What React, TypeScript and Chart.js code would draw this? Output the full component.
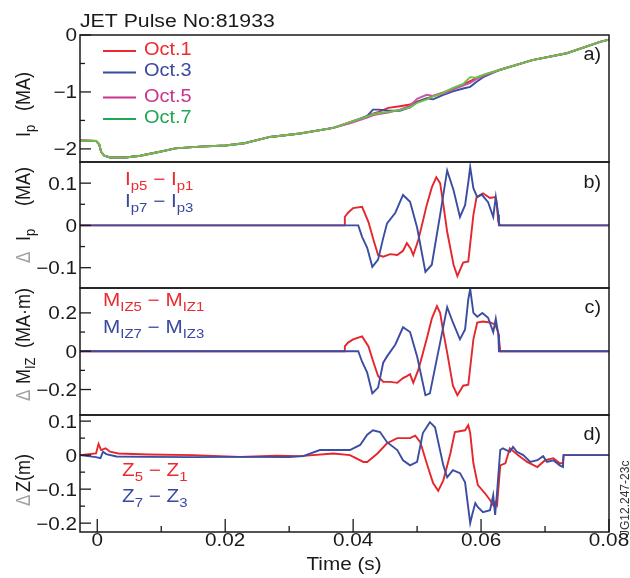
import React, { useEffect, useRef } from "react";
import { Chart, registerables } from "chart.js";

Chart.register(...registerables);

const FONT = "'Liberation Sans', Arial, Helvetica, sans-serif";

// ---------- axes ----------
const X_MIN = -0.0027;
const X_MAX = 0.08;
const X_TICKS = [0, 0.01, 0.02, 0.03, 0.04, 0.05, 0.06, 0.07, 0.08];
const X_LABELS = ["0", "", "0.02", "", "0.04", "", "0.06", "", "0.08"];

const YA_TICKS = [0, -0.5, -1, -1.5, -2];
const YA_LABELS = ["0", "", "\u22121", "", "\u22122"];
const YB_TICKS = [0.1, 0.05, 0, -0.05, -0.1];
const YB_LABELS = ["0.1", "", "0", "", "\u22120.1"];
const YC_TICKS = [0.2, 0.1, 0, -0.1, -0.2];
const YC_LABELS = ["0.2", "", "0", "", "\u22120.2"];
const YD_TICKS = [0.1, 0.05, 0, -0.05, -0.1, -0.15, -0.2];
const YD_LABELS = ["0.1", "", "0", "", "\u22120.1", "", "\u22120.2"];

// ---------- panel a : plasma current ----------
const T_A = [-0.0027, -0.0002, 0.0003, 0.0006, 0.0011, 0.002, 0.0044, 0.0067, 0.0098, 0.0122, 0.016, 0.02, 0.023, 0.027, 0.0317, 0.0369,
  0.0395, 0.0422, 0.0431, 0.044, 0.0455, 0.0473, 0.0489, 0.05, 0.0515, 0.0525, 0.0541, 0.0556, 0.0572, 0.0583, 0.0592, 0.0605,
  0.063, 0.068, 0.0734, 0.0786, 0.08];
const IP_OCT1 = [-1.85, -1.86, -1.92, -2.05, -2.12, -2.15, -2.15, -2.12, -2.05, -1.99, -1.96, -1.94, -1.9, -1.79, -1.73, -1.63,
  -1.53, -1.43, -1.38, -1.35, -1.28, -1.25, -1.22, -1.17, -1.12, -1.07, -1.01, -0.95, -0.87, -0.81, -0.76, -0.7,
  -0.61, -0.44, -0.32, -0.12, -0.08];
const IP_OCT3 = [-1.85, -1.86, -1.92, -2.05, -2.12, -2.15, -2.15, -2.12, -2.05, -1.99, -1.96, -1.94, -1.9, -1.79, -1.73, -1.63,
  -1.54, -1.42, -1.31, -1.31, -1.33, -1.33, -1.27, -1.18, -1.11, -1.13, -1.05, -0.99, -0.94, -0.91, -0.83, -0.73,
  -0.61, -0.44, -0.32, -0.12, -0.08];
const IP_OCT5 = [-1.85, -1.86, -1.92, -2.05, -2.12, -2.15, -2.15, -2.12, -2.05, -1.99, -1.96, -1.94, -1.9, -1.79, -1.73, -1.63,
  -1.55, -1.45, -1.41, -1.39, -1.36, -1.31, -1.24, -1.12, -1.05, -1.07, -1.03, -0.96, -0.89, -0.84, -0.78, -0.71,
  -0.61, -0.44, -0.32, -0.12, -0.08];
const IP_OCT7 = [-1.85, -1.86, -1.92, -2.05, -2.12, -2.15, -2.15, -2.12, -2.05, -1.99, -1.96, -1.94, -1.9, -1.79, -1.73, -1.63,
  -1.53, -1.43, -1.39, -1.37, -1.35, -1.32, -1.27, -1.19, -1.13, -1.08, -1.01, -0.93, -0.86, -0.74, -0.75, -0.69,
  -0.61, -0.44, -0.32, -0.12, -0.08];

// ---------- panel b : delta Ip ----------
const T_B_RED = [-0.0027, 0.0386, 0.0387, 0.0392, 0.04, 0.0414, 0.0424, 0.0432, 0.0439, 0.0447, 0.0458, 0.0469, 0.0478, 0.0484,
  0.049, 0.0494, 0.0502, 0.0509, 0.0515, 0.0523, 0.053, 0.0536, 0.0541, 0.0547, 0.0557, 0.0563, 0.0572, 0.058, 0.0588, 0.0593,
  0.0603, 0.0614, 0.0622, 0.0624, 0.0627, 0.063, 0.08];
const DIP_51 = [0, 0, 0.02, 0.03, 0.041, 0.044, 0.008, -0.035, -0.07, -0.074, -0.068, -0.07, -0.06, -0.042,
  -0.055, -0.07, -0.034, 0.01, 0.048, 0.09, 0.114, 0.1, 0.05, -0.015, -0.093, -0.12, -0.088, -0.085, 0.025, 0.067,
  0.076, 0.065, 0.067, 0.058, 0.008, 0, 0];
const T_B_BLUE = [-0.0027, 0.0408, 0.0414, 0.0422, 0.043, 0.0439, 0.0447, 0.0453, 0.0466, 0.0478, 0.0489, 0.05, 0.0513, 0.0523,
  0.0536, 0.0547, 0.0557, 0.0567, 0.0575, 0.058, 0.0583, 0.0588, 0.0594, 0.0601, 0.0611, 0.0619, 0.0623, 0.0627, 0.0628, 0.08];
const DIP_73 = [0, 0, -0.027, -0.053, -0.098, -0.081, -0.03, 0.005, 0.03, 0.072, 0.056, -0.005, -0.11, -0.093,
  0.025, 0.13, 0.083, 0.02, 0.048, 0.102, 0.138, 0.088, 0.067, 0.073, 0.055, 0.02, 0.067, 0.025, 0, 0];

// ---------- panel c : delta M_IZ ----------
const T_C_RED = [-0.0027, 0.0386, 0.0387, 0.0392, 0.04, 0.0414, 0.0424, 0.0432, 0.0439, 0.0447, 0.0458, 0.0469, 0.0478, 0.0484,
  0.0489, 0.0494, 0.0502, 0.0509, 0.0516, 0.0523, 0.0531, 0.0536, 0.0541, 0.0547, 0.0556, 0.0563, 0.0572, 0.058, 0.0588, 0.0594,
  0.0603, 0.0614, 0.0622, 0.0627, 0.063, 0.08];
const DMIZ_51 = [0, 0, 0.025, 0.045, 0.062, 0.077, 0.025, -0.06, -0.13, -0.16, -0.16, -0.165, -0.14, -0.13,
  -0.12, -0.165, -0.096, -0.01, 0.077, 0.17, 0.235, 0.2, 0.1, -0.007, -0.18, -0.23, -0.18, -0.175, 0.062, 0.15,
  0.155, 0.15, 0.14, 0.097, 0, 0];
const T_C_BLUE = [-0.0027, 0.0408, 0.0414, 0.0422, 0.043, 0.0439, 0.0447, 0.0453, 0.0466, 0.0478, 0.0489, 0.05, 0.0513, 0.052,
  0.0536, 0.0547, 0.0556, 0.0567, 0.0575, 0.058, 0.0583, 0.0588, 0.0594, 0.0602, 0.0611, 0.0619, 0.0623, 0.0627, 0.0628, 0.08];
const DMIZ_73 = [0, 0, -0.055, -0.112, -0.22, -0.19, -0.06, -0.027, 0.035, 0.125, 0.1, -0.027, -0.23, -0.22,
  0.045, 0.23, 0.15, 0.062, 0.114, 0.27, 0.325, 0.2, 0.18, 0.2, 0.175, 0.1, 0.17, 0.087, 0, 0];

// ---------- panel d : delta Z ----------
const T_D_RED = [-0.0027, -0.0002, 0.0002, 0.0006, 0.0013, 0.002, 0.0033, 0.008, 0.015, 0.0223, 0.028, 0.0317, 0.0369, 0.0395,
  0.0416, 0.0422, 0.0438, 0.0453, 0.0469, 0.0489, 0.0497, 0.0505, 0.0516, 0.0525, 0.0533, 0.0541, 0.0552, 0.0559, 0.0575, 0.058,
  0.0583, 0.0588, 0.0595, 0.0606, 0.0614, 0.0619, 0.0622, 0.0625, 0.063, 0.0638, 0.0645, 0.0658, 0.0672, 0.0688, 0.07, 0.0713,
  0.0723, 0.0728, 0.0729, 0.08];
const DZ_51 = [0, 0.005, 0.033, 0.015, 0.02, 0.01, 0.005, 0.002, 0, -0.005, -0.002, -0.003, 0.005, 0,
  -0.02, -0.02, 0.005, 0.035, 0.05, 0.05, 0.057, 0.038, -0.03, -0.082, -0.105, -0.074, 0.005, 0.068, 0.073, 0.088,
  0.065, -0.024, -0.088, -0.112, -0.132, -0.147, -0.138, -0.147, -0.03, -0.024, 0.02, 0, -0.02, -0.035, -0.015, -0.009,
  -0.024, -0.024, 0, 0];
const T_D_BLUE = [-0.0027, -0.0002, 0.0005, 0.0009, 0.0014, 0.003, 0.008, 0.015, 0.0223, 0.03, 0.0322, 0.0348, 0.0369, 0.0395,
  0.0411, 0.0422, 0.0431, 0.0442, 0.0453, 0.0469, 0.0478, 0.0489, 0.05, 0.0509, 0.052, 0.0528, 0.0541, 0.0547, 0.0556, 0.0567,
  0.0575, 0.0578, 0.0583, 0.0586, 0.0591, 0.0595, 0.0603, 0.0614, 0.0619, 0.0622, 0.0625, 0.063, 0.0634, 0.0645, 0.065, 0.0656,
  0.0666, 0.0677, 0.0688, 0.0697, 0.0703, 0.0713, 0.0723, 0.0728, 0.0729, 0.08];
const DZ_73 = [0, -0.006, -0.009, 0.01, 0.003, -0.004, -0.005, -0.006, -0.005, -0.006, -0.003, 0.015, 0.015, 0.015,
  0.03, 0.06, 0.073, 0.068, 0.038, 0.015, -0.015, -0.03, -0.02, 0.065, 0.097, 0.082, -0.03, -0.065, -0.044, -0.053,
  -0.08, -0.126, -0.2, -0.176, -0.141, -0.153, -0.168, -0.162, -0.118, -0.176, -0.109, 0.015, 0.02, 0.01, 0.024, 0.01,
  0, -0.02, -0.015, -0.003, -0.02, -0.015, -0.03, -0.035, 0, 0];

// ---------- colours ----------
const RED = "#e5262c";
const BLUE = "#3b4da2";
const MAGENTA = "#c458a6";
const GREEN = "#6cbf47";
const TXT_RED = "#ec2a30";
const TXT_BLUE = "#3a49a0";
const TXT_MAGENTA = "#c9348e";
const TXT_GREEN = "#22a652";
const INK = "#1a1a1a";
const DELTA_GREY = "#a0a0a0";

type Seg = { t: string; size?: number; dy?: number; color?: string; at?: number };

function drawRich(
  ctx: CanvasRenderingContext2D,
  segs: Seg[],
  x: number,
  y: number,
  o: { size: number; color: string; sx: number; rot?: boolean; align?: CanvasTextAlign }
) {
  ctx.save();
  ctx.translate(x, y);
  ctx.scale(o.sx, 1);
  if (o.rot) ctx.rotate(-Math.PI / 2);
  ctx.textBaseline = "alphabetic";
  ctx.textAlign = o.align ?? "left";
  let cx = 0;
  for (const s of segs) {
    if (s.at !== undefined) cx = s.at;
    ctx.font = `${s.size ?? o.size}px ${FONT}`;
    ctx.fillStyle = s.color ?? o.color;
    ctx.fillText(s.t, cx, s.dy ?? 0);
    cx += ctx.measureText(s.t).width;
  }
  ctx.restore();
}

type Series = { t: number[]; v: number[]; color: string; order: number };
type Panel = {
  top: number;
  h: number;
  padTop: number;
  padBottom: number;
  yMin: number;
  yMax: number;
  yTicks: number[];
  yLabels: string[];
  series: Series[];
  xAxis?: boolean;
  extra: (ctx: CanvasRenderingContext2D) => void;
};

const TICK_SIZE = 18;
const TICK_SX = 1.15;

const PANELS: Panel[] = [
  {
    top: 0, h: 182, padTop: 35, padBottom: 20,
    yMin: -2.23, yMax: 0, yTicks: YA_TICKS, yLabels: YA_LABELS,
    series: [
      { t: T_A, v: IP_OCT1, color: RED, order: 3 },
      { t: T_A, v: IP_OCT3, color: BLUE, order: 2 },
      { t: T_A, v: IP_OCT5, color: MAGENTA, order: 1 },
      { t: T_A, v: IP_OCT7, color: GREEN, order: 0 },
    ],
    extra: (ctx) => {
      drawRich(ctx, [{ t: "JET Pulse No:81933" }], 80, 27, { size: 18, color: INK, sx: 1.18 });
      const leg = [
        { name: "Oct.1", c: TXT_RED, ly: 51, by: 55 },
        { name: "Oct.3", c: TXT_BLUE, ly: 72.5, by: 76 },
        { name: "Oct.5", c: TXT_MAGENTA, ly: 97.5, by: 101.5 },
        { name: "Oct.7", c: TXT_GREEN, ly: 119, by: 123 },
      ];
      for (const l of leg) {
        ctx.strokeStyle = l.c;
        ctx.lineWidth = 2;
        ctx.beginPath();
        ctx.moveTo(103, l.ly);
        ctx.lineTo(136, l.ly);
        ctx.stroke();
        drawRich(ctx, [{ t: l.name }], 144, l.by, { size: 19, color: l.c, sx: 1.05 });
      }
      drawRich(ctx, [{ t: "I" }, { t: "p", size: 13, dy: 4 }, { t: "(MA)", at: 26 }], 30, 137,
        { size: 18, color: INK, sx: 1.15, rot: true });
      drawRich(ctx, [{ t: "a)" }], 601, 60, { size: 18, color: INK, sx: 1.1, align: "right" });
    },
  },
  {
    top: 142, h: 166, padTop: 20, padBottom: 20,
    yMin: -0.148, yMax: 0.15, yTicks: YB_TICKS, yLabels: YB_LABELS,
    series: [
      { t: T_B_RED, v: DIP_51, color: RED, order: 1 },
      { t: T_B_BLUE, v: DIP_73, color: BLUE, order: 0 },
    ],
    extra: (ctx) => {
      drawRich(ctx, [{ t: "I" }, { t: "p5", size: 13, dy: 4.5 }, { t: " \u2212 " }, { t: "I" }, { t: "p1", size: 13, dy: 4.5 }],
        125, 185, { size: 18, color: TXT_RED, sx: 1.15 });
      drawRich(ctx, [{ t: "I" }, { t: "p7", size: 13, dy: 4.5 }, { t: " \u2212 " }, { t: "I" }, { t: "p3", size: 13, dy: 4.5 }],
        125, 207, { size: 18, color: TXT_BLUE, sx: 1.15 });
      drawRich(ctx, [{ t: "\u0394", size: 17, color: DELTA_GREY }, { t: "I", at: 22 }, { t: "p", size: 13, dy: 4 }, { t: "(MA)", at: 57 }],
        30, 263, { size: 18, color: INK, sx: 1.15, rot: true });
      drawRich(ctx, [{ t: "b)" }], 601, 188, { size: 18, color: INK, sx: 1.1, align: "right" });
    },
  },
  {
    top: 268, h: 167, padTop: 20, padBottom: 20,
    yMin: -0.333, yMax: 0.33, yTicks: YC_TICKS, yLabels: YC_LABELS,
    series: [
      { t: T_C_RED, v: DMIZ_51, color: RED, order: 1 },
      { t: T_C_BLUE, v: DMIZ_73, color: BLUE, order: 0 },
    ],
    extra: (ctx) => {
      drawRich(ctx, [{ t: "M" }, { t: "IZ5", size: 13, dy: 4.5 }, { t: " \u2212 " }, { t: "M" }, { t: "IZ1", size: 13, dy: 4.5 }],
        103, 306, { size: 18, color: TXT_RED, sx: 1.15 });
      drawRich(ctx, [{ t: "M" }, { t: "IZ7", size: 13, dy: 4.5 }, { t: " \u2212 " }, { t: "M" }, { t: "IZ3", size: 13, dy: 4.5 }],
        103, 333, { size: 18, color: TXT_BLUE, sx: 1.15 });
      drawRich(ctx, [{ t: "\u0394", size: 17, color: DELTA_GREY }, { t: "M", at: 17 }, { t: "IZ", size: 13, dy: 4 }, { t: "(MA\u00b7m)", at: 53 }],
        30, 401, { size: 18, color: INK, sx: 1.15, rot: true });
      drawRich(ctx, [{ t: "c)" }], 601, 313, { size: 18, color: INK, sx: 1.1, align: "right" });
    },
  },
  {
    top: 395, h: 183, padTop: 20, padBottom: 46,
    yMin: -0.226, yMax: 0.118, yTicks: YD_TICKS, yLabels: YD_LABELS,
    xAxis: true,
    series: [
      { t: T_D_RED, v: DZ_51, color: RED, order: 1 },
      { t: T_D_BLUE, v: DZ_73, color: BLUE, order: 0 },
    ],
    extra: (ctx) => {
      drawRich(ctx, [{ t: "Z" }, { t: "5", size: 13, dy: 4.5 }, { t: " \u2212 " }, { t: "Z" }, { t: "1", size: 13, dy: 4.5 }],
        122, 476, { size: 18, color: TXT_RED, sx: 1.15 });
      drawRich(ctx, [{ t: "Z" }, { t: "7", size: 13, dy: 4.5 }, { t: " \u2212 " }, { t: "Z" }, { t: "3", size: 13, dy: 4.5 }],
        122, 502, { size: 18, color: TXT_BLUE, sx: 1.15 });
      drawRich(ctx, [{ t: "\u0394", size: 17, color: DELTA_GREY }, { t: "Z(m)", at: 14 }],
        30, 506, { size: 18, color: INK, sx: 1.15, rot: true });
      drawRich(ctx, [{ t: "d)" }], 601, 440, { size: 18, color: INK, sx: 1.1, align: "right" });
      drawRich(ctx, [{ t: "Time (s)" }], 344, 570, { size: 18, color: INK, sx: 1.15, align: "center" });
      drawRich(ctx, [{ t: "JG12.247-23c" }], 629, 536, { size: 12, color: "#333", sx: 1.0, rot: true });
    },
  },
];

function panelPlugin(p: Panel) {
  return {
    id: "panelDecor",
    afterDraw(chart: any) {
      const ctx: CanvasRenderingContext2D = chart.ctx;
      const a = chart.chartArea;
      const xs = chart.scales.x;
      const ys = chart.scales.y;
      ctx.save();
      // frame
      ctx.strokeStyle = INK;
      ctx.lineWidth = 1.5;
      ctx.strokeRect(a.left, a.top, a.right - a.left, a.bottom - a.top);
      // y ticks + labels
      ctx.lineWidth = 1.3;
      p.yTicks.forEach((v, i) => {
        const y = ys.getPixelForValue(v);
        const major = p.yLabels[i] !== "";
        ctx.strokeStyle = INK;
        ctx.beginPath();
        ctx.moveTo(a.left, y);
        ctx.lineTo(a.left + (major ? 11 : 5), y);
        ctx.stroke();
        if (major) {
          drawRich(ctx, [{ t: p.yLabels[i] }], 77, y + 6.4, { size: TICK_SIZE, color: INK, sx: TICK_SX, align: "right" });
        }
      });
      // x ticks + labels
      if (p.xAxis) {
        X_TICKS.forEach((v, i) => {
          const x = xs.getPixelForValue(v);
          const major = X_LABELS[i] !== "";
          ctx.strokeStyle = INK;
          ctx.beginPath();
          ctx.moveTo(x, a.bottom);
          ctx.lineTo(x, a.bottom - (major ? 13 : 6));
          ctx.stroke();
          if (major) {
            drawRich(ctx, [{ t: X_LABELS[i] }], x, 546 - p.top, { size: TICK_SIZE, color: INK, sx: TICK_SX, align: "center" });
          }
        });
      }
      // page-coordinate decorations
      ctx.translate(0, -p.top);
      p.extra(ctx);
      ctx.restore();
    },
  };
}

function makeConfig(p: Panel): any {
  return {
    type: "line",
    data: {
      datasets: p.series.map((s) => ({
        data: s.t.map((t, i) => ({ x: t, y: s.v[i] })),
        borderColor: s.color,
        backgroundColor: s.color,
        borderWidth: 1.9,
        pointRadius: 0,
        tension: 0,
        fill: false,
        order: s.order,
      })),
    },
    options: {
      responsive: false,
      maintainAspectRatio: false,
      animation: false,
      events: [],
      layout: { padding: { left: 80, right: 21, top: p.padTop, bottom: p.padBottom } },
      scales: {
        x: { type: "linear", display: false, min: X_MIN, max: X_MAX },
        y: { type: "linear", display: false, min: p.yMin, max: p.yMax },
      },
      plugins: { legend: { display: false }, tooltip: { enabled: false } },
    },
    plugins: [panelPlugin(p)],
  };
}

export default function App() {
  const r0 = useRef<HTMLCanvasElement>(null);
  const r1 = useRef<HTMLCanvasElement>(null);
  const r2 = useRef<HTMLCanvasElement>(null);
  const r3 = useRef<HTMLCanvasElement>(null);
  const refs = [r0, r1, r2, r3];

  useEffect(() => {
    const charts = PANELS.map((p, i) => new Chart(refs[i].current as HTMLCanvasElement, makeConfig(p)));
    return () => charts.forEach((c) => c.destroy());
  }, []);

  return (
    <div style={{ position: "absolute", left: 0, top: 0, width: 630, height: 578, background: "#fff", overflow: "hidden" }}>
      {PANELS.map((p, i) => (
        <canvas
          key={i}
          ref={refs[i]}
          width={630}
          height={p.h}
          style={{ position: "absolute", left: 0, top: p.top, width: 630, height: p.h }}
        />
      ))}
    </div>
  );
}
